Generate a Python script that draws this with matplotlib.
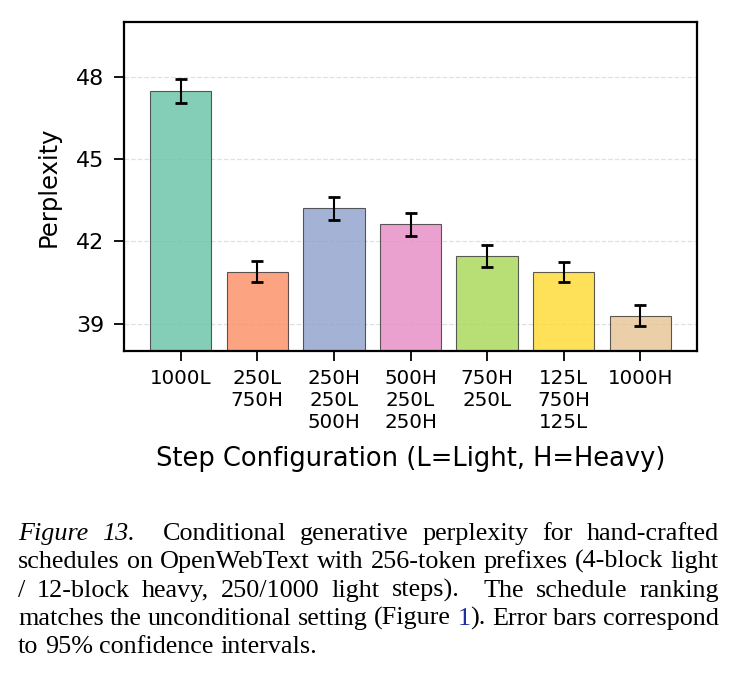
import numpy as np
import matplotlib
matplotlib.use('Agg')
import matplotlib.pyplot as plt

# Data
configs = ['1000L', '250L\n750H', '250H\n250L\n500H', '500H\n250L\n250H',
           '750H\n250L', '125L\n750H\n125L', '1000H']
perplexity = [47.48, 40.89, 43.21, 42.62, 41.45, 40.87, 39.29]
ci95 = [0.44, 0.39, 0.42, 0.41, 0.40, 0.37, 0.38]
yticks = [39, 42, 45, 48]

colors = ['#66c2a5', '#fc8d62', '#8da0cb', '#e78ac3', '#a6d854', '#ffd92f', '#e5c494']

W, H = 735, 677
fig = plt.figure(figsize=(W / 100, H / 100), dpi=100)
ax = fig.add_axes([124 / W, 1 - 351 / H, (697 - 124) / W, (351 - 22) / H])

x = np.arange(len(configs))
ax.bar(x, perplexity, width=0.8, color=colors, alpha=0.8,
       edgecolor='#333333', linewidth=0.8, zorder=2)
ax.errorbar(x, perplexity, yerr=ci95, fmt='none', ecolor='black',
            elinewidth=1.5, capsize=4, capthick=2, zorder=3)

ax.set_ylim(38, 50)
ax.set_yticks(yticks)
ax.set_xticks(x)
ax.set_xticklabels(configs, fontsize=14.3)
ax.tick_params(axis='y', labelsize=16, length=7, width=1.3, pad=7)
ax.tick_params(axis='x', length=7, width=1.3, pad=6)
ax.grid(axis='y', linestyle='--', color='#cccccc', alpha=0.6, linewidth=0.9, zorder=0)
for s in ax.spines.values():
    s.set_linewidth(1.6)

ax.set_ylabel('Perplexity', fontsize=17.5, labelpad=11)
ax.set_xlabel('Step Configuration (L=Light, H=Heavy)', fontsize=18.5, labelpad=10)

# Caption, justified word by word
cap_font = dict(family='Liberation Serif', fontsize=18.8)
lines = [
    [[('Figure', 'i')], [('13.', 'i')], [('Conditional', 'n')], [('generative', 'n')],
     [('perplexity', 'n')], [('for', 'n')], [('hand-crafted', 'n')]],
    [[('schedules', 'n')], [('on', 'n')], [('OpenWebText', 'n')], [('with', 'n')],
     [('256-token', 'n')], [('prefixes', 'n')], [('(4-block', 'n')], [('light', 'n')]],
    [[('/', 'n')], [('12-block', 'n')], [('heavy,', 'n')], [('250/1000', 'n')],
     [('light', 'n')], [('steps).', 'n')], [('The', 'n')], [('schedule', 'n')],
     [('ranking', 'n')]],
    [[('matches', 'n')], [('the', 'n')], [('unconditional', 'n')], [('setting', 'n')],
     [('(Figure', 'n')], [('1', 'b'), (').', 'n')], [('Error', 'n')], [('bars', 'n')],
     [('correspond', 'n')]],
    [[('to', 'n')], [('95%', 'n')], [('confidence', 'n')], [('intervals.', 'n')]],
]
wide_after = {(0, 1), (2, 5)}
baselines = [540, 568, 597, 625, 653]
x_left, x_right = 18, 719

fig.canvas.draw()
renderer = fig.canvas.get_renderer()


def make(txt, style):
    kw = dict(cap_font)
    if style == 'i':
        kw['fontstyle'] = 'italic'
    kw['color'] = '#1f2fa0' if style == 'b' else 'black'
    return fig.text(0, 0, txt, va='baseline', ha='left', **kw)


t1 = make('x x', 'n')
t2 = make('xx', 'n')
space_w = t1.get_window_extent(renderer).width - t2.get_window_extent(renderer).width
t1.remove()
t2.remove()

for li, words in enumerate(lines):
    objs = []
    widths = []
    for word in words:
        segs = []
        ww = 0
        for txt, style in word:
            t = make(txt, style)
            w = t.get_window_extent(renderer).width
            segs.append((t, ww))
            ww += w
        objs.append(segs)
        widths.append(ww)
    weights = [2.0 if (li, i) in wide_after else 1.0 for i in range(len(words) - 1)]
    if li < len(lines) - 1:
        unit = (x_right - x_left - sum(widths)) / sum(weights)
    else:
        unit = space_w
    cx = x_left
    y = 1 - baselines[li] / H
    for i, segs in enumerate(objs):
        for t, off in segs:
            t.set_position(((cx + off) / W, y))
        cx += widths[i]
        if i < len(weights):
            cx += unit * weights[i]

fig.savefig('out.png', dpi=100)
